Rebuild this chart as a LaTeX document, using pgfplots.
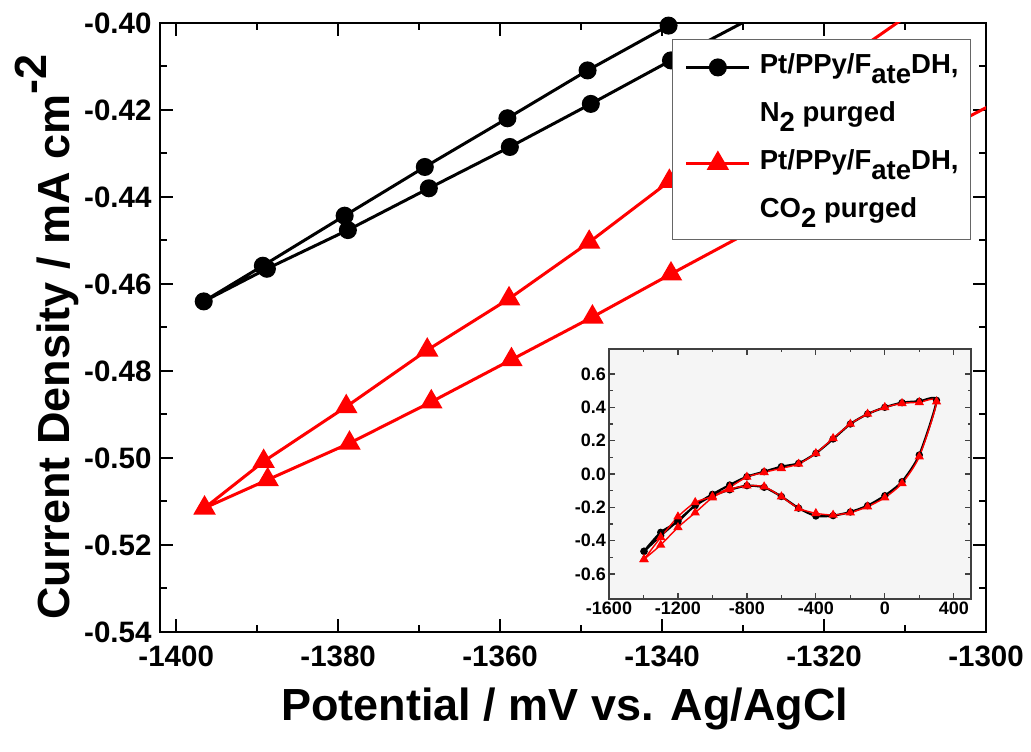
\documentclass[border=0pt]{standalone}
\usepackage{pgfplots}
\usepackage{pgfplotstable}
\pgfplotsset{compat=1.18}
\usepackage{fontspec}
\setmainfont{Liberation Sans}
\newcommand\sub[1]{\raisebox{-0.37em}{#1}}
\newcommand\super[1]{\raisebox{0.5em}{#1}}
\pgfplotsset{longlegend/.style={legend image code/.code={\draw[mark repeat=2,mark phase=2,##1] plot coordinates {(0pt,0pt) (31.5pt,0pt) (63pt,0pt)};}}}

\pgfplotstableread{
x y
-1329.2 -0.3900
-1339.2 -0.4006
-1349.2 -0.4109
-1359.1 -0.4219
-1369.3 -0.4331
-1379.2 -0.4443
-1389.3 -0.4558
-1396.6 -0.4640
-1388.8 -0.4565
-1378.8 -0.4476
-1368.8 -0.4380
-1358.8 -0.4285
-1348.8 -0.4186
-1338.9 -0.4086
-1328.9 -0.3988
}\blackmain

\pgfplotstableread{
x y
-1309.0 -0.3974
-1319.0 -0.4104
-1329.0 -0.4234
-1339.1 -0.4364
-1349.0 -0.4504
-1358.9 -0.4634
-1369.0 -0.4752
-1379.0 -0.4882
-1389.2 -0.5008
-1396.5 -0.5115
-1388.7 -0.5050
-1378.6 -0.4966
-1368.5 -0.4871
-1358.6 -0.4774
-1348.6 -0.4676
-1338.9 -0.4577
-1329.0 -0.4478
-1319.0 -0.4380
-1309.0 -0.4282
-1299.0 -0.4185
}\redmain

\pgfplotstableread{
x y
-1397 -0.464
-1300 -0.350
-1200 -0.286
-1100 -0.186
-1000 -0.122
-900 -0.066
-800 -0.016
-700 0.014
-600 0.044
-500 0.064
-400 0.124
-300 0.210
-200 0.300
-100 0.360
0 0.400
100 0.428
200 0.436
300 0.442
200 0.114
100 -0.046
0 -0.130
-100 -0.190
-200 -0.228
-300 -0.250
-400 -0.252
-500 -0.205
-600 -0.135
-700 -0.080
-800 -0.070
-900 -0.095
-1000 -0.130
-1100 -0.190
-1200 -0.280
-1300 -0.370
-1397 -0.464
}\blackinset

\pgfplotstableread{
x y
-1397 -0.512
-1300 -0.380
-1200 -0.256
-1100 -0.170
-1000 -0.135
-900 -0.080
-800 -0.018
-700 0.010
-600 0.034
-500 0.060
-400 0.124
-300 0.214
-200 0.300
-100 0.360
0 0.400
100 0.424
200 0.430
300 0.434
200 0.104
100 -0.056
0 -0.142
-100 -0.196
-200 -0.232
-300 -0.246
-400 -0.236
-500 -0.206
-600 -0.136
-700 -0.076
-800 -0.070
-900 -0.092
-1000 -0.142
-1100 -0.232
-1200 -0.320
-1300 -0.426
-1397 -0.512
}\redinset

\begin{document}
\begin{tikzpicture}
\useasboundingbox (0pt,0pt) rectangle (1031pt,752pt);
\begin{axis}[
  at={(160pt,120pt)}, anchor=south west,
  width=826pt, height=609pt, scale only axis,
  xmin=-1402, xmax=-1300, ymin=-0.54, ymax=-0.40,
  xtick={-1400,-1380,-1360,-1340,-1320,-1300},
  ytick={-0.54,-0.52,-0.50,-0.48,-0.46,-0.44,-0.42,-0.40},
  minor x tick num=1, minor y tick num=1,
  tick align=inside, major tick length=13pt, minor tick length=7pt,
  tick style={line width=2pt, black},
  axis line style={line width=2.5pt},
  /pgf/number format/assume math mode=true,
  ticklabel style={font=\fontsize{29.5}{29.5}\selectfont\bfseries},
  xticklabel style={/pgf/number format/1000 sep={}, yshift=-10pt},
  yticklabel style={/pgf/number format/fixed, /pgf/number format/fixed zerofill, /pgf/number format/precision=2, xshift=-5pt},
  label style={font=\fontsize{45}{45}\selectfont\bfseries},
  xlabel={Potential / mV vs. Ag/AgCl},
  ylabel={Current Density / mA cm\super{-2}},
  xlabel style={at={(axis description cs:0.49,-0.146)}, anchor=base},
  ylabel style={at={(axis description cs:-0.137,0.484)}, anchor=center},
  legend cell align=left,
  legend style={at={(rel axis cs:0.982,0.974)}, anchor=north east,
    draw=black!60, line width=1.2pt, fill=white,
    inner xsep=12pt, inner ysep=12pt, row sep=16pt, column sep=9pt,
    font=\fontsize{27.5}{27.5}\selectfont\bfseries,
    nodes={inner sep=0pt, text height=22pt, text depth=10pt}},
]
\addplot[black, line width=3pt, mark=*, mark size=7.5pt, mark options={solid}, longlegend]
  table[x=x,y=y] {\blackmain};
\addlegendentry{Pt/PPy/F\sub{ate}DH,}
\addlegendimage{empty legend}
\addlegendentry{N\sub{2} purged}
\addplot[red, line width=3pt, mark=triangle*, mark size=10pt, mark options={solid}, longlegend]
  table[x=x,y=y] {\redmain};
\addlegendentry{Pt/PPy/F\sub{ate}DH,}
\addlegendimage{empty legend}
\addlegendentry{CO\sub{2} purged}
\end{axis}

\begin{axis}[
  at={(609pt,153pt)}, anchor=south west,
  width=362pt, height=250pt, scale only axis,
  xmin=-1600, xmax=500, ymin=-0.75, ymax=0.75,
  xtick={-1600,-1200,-800,-400,0,400},
  ytick={-0.6,-0.4,-0.2,0,0.2,0.4,0.6},
  minor x tick num=1, minor y tick num=1,
  tick align=inside, major tick length=6pt, minor tick length=3.5pt,
  tick style={line width=1.2pt, black!75},
  axis line style={line width=1.5pt, black!75},
  axis background/.style={fill=black!4},
  /pgf/number format/assume math mode=true,
  ticklabel style={font=\fontsize{18}{18}\selectfont\bfseries},
  xticklabel style={/pgf/number format/1000 sep={}, inner sep=3pt},
  yticklabel style={/pgf/number format/fixed, /pgf/number format/fixed zerofill, /pgf/number format/precision=1, inner sep=3pt},
]
\addplot[black, line width=2.2pt, smooth, tension=0.4, mark=*, mark size=2.5pt, mark options={solid}]
  table[x=x,y=y] {\blackinset};
\addplot[red, line width=1.4pt, smooth, tension=0.4, mark=triangle*, mark size=4pt, mark options={solid}]
  table[x=x,y=y] {\redinset};
\end{axis}
\end{tikzpicture}
\end{document}
